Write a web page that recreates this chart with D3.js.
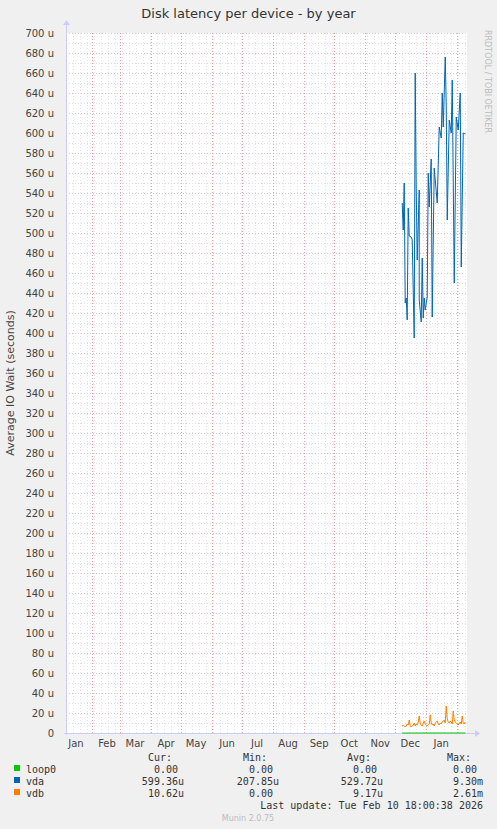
<!DOCTYPE html>
<html><head><meta charset="utf-8">
<script src="https://cdn.jsdelivr.net/npm/d3@7"></script>
<style>body{margin:0;background:#f0f0f0}</style>
</head><body>
<script>
const yTicks = d3.range(0, 701, 20);
const months = ["Jan","Feb","Mar","Apr","May","Jun","Jul","Aug","Sep","Oct","Nov","Dec","Jan"];
// x pixel offsets converted to days after 2025-12-01
const vdaDays = [7,8,9,10,11,12,13,14,16,17,19,20,21,22,24,24,26,27,28,29,30,32,33,34,36,37,39,42,44,46,47,48,50,51,52,54,56,57,59,61,63,65,66,68,70];
const vdaVals = [530,503,550,430,435,413,525,497,496,493,395,660,546,473,543,433,411,475,415,435,423,436,560,526,574,416,565,530,606,595,640,606,676,627,513,613,600,653,450,616,603,640,466,600,599];
const vdbDays = d3.range(7, 71);
const vdbVals = [7,8,7,6,7,9,8,13,7,6,7,8,10,7,9,8,11,17,9,8,7,10,12,9,8,7,8,9,18,10,8,9,7,10,11,12,9,8,10,9,11,12,13,10,27,14,11,10,12,11,9,22,13,11,10,9,8,10,11,9,17,10,9,11];
const loop0Days = [7, 70];
const loop0Vals = [0, 0];
const legend = [
  {name:"loop0", color:"#00cc00", cur:"0.00", min:"0.00", avg:"0.00", max:"0.00"},
  {name:"vda", color:"#0066b3", cur:"599.36u", min:"207.85u", avg:"529.72u", max:"9.30m"},
  {name:"vdb", color:"#ff8000", cur:"10.62u", min:"0.00", avg:"9.17u", max:"2.61m"}
];

const W = 497, H = 829, L = 66, R = 467, T = 33, B = 733;
const svg = d3.select("body").append("svg").attr("width", W).attr("height", H)
  .style("font-family", "DejaVu Sans").style("font-size", "10px");
svg.append("rect").attr("width", W).attr("height", H).attr("fill", "#f0f0f0");

const t0 = new Date(2025, 0, 6), t1 = new Date(2026, 1, 10, 18);
const x = d3.scaleTime().domain([t0, t1]).range([L, R]);
const y = d3.scaleLinear().domain([0, 700]).range([B, T]);
const dayDate = d => new Date(2025, 11, 1 + d);

svg.append("rect").attr("x", L).attr("y", T).attr("width", R - L).attr("height", B - T).attr("fill", "#fff");

// grids
svg.append("g").selectAll("line").data(d3.range(0, 701, 10)).join("line")
  .attr("x1", L).attr("x2", R).attr("y1", d => y(d) + .5).attr("y2", d => y(d) + .5)
  .attr("stroke", d => d % 20 ? "#dddddd" : "#d8c8c8").attr("stroke-dasharray", "1,2");
const mStarts = d3.timeMonth.range(d3.timeMonth.ceil(t0), t1);
const weeks = d3.timeMonday.range(t0, t1);
svg.append("g").selectAll("line").data(weeks).join("line")
  .attr("x1", d => Math.round(x(d)) + .5).attr("x2", d => Math.round(x(d)) + .5).attr("y1", T).attr("y2", B)
  .attr("stroke", "#e4e4e4").attr("stroke-dasharray", "1,2");
svg.append("g").selectAll("line").data([t0, ...mStarts]).join("line")
  .attr("x1", d => Math.round(x(d)) + .5).attr("x2", d => Math.round(x(d)) + .5).attr("y1", T).attr("y2", B)
  .attr("stroke", "#e8a0a0").attr("stroke-dasharray", "1,2");

// axes lines
svg.append("line").attr("x1", L - 2).attr("x2", R + 8).attr("y1", B + .5).attr("y2", B + .5).attr("stroke", "#ccccff");
svg.append("path").attr("d", `M${R+8},${B-3}L${R+13},${B+.5}L${R+8},${B+4}Z`).attr("fill", "#ccccff");
svg.append("line").attr("x1", L + .5).attr("x2", L + .5).attr("y1", B + 2).attr("y2", T - 8).attr("stroke", "#ccccff");
svg.append("path").attr("d", `M${L-3},${T-8}L${L+.5},${T-13}L${L+4},${T-8}Z`).attr("fill", "#ccccff");

svg.append("g").selectAll("text").data(yTicks).join("text")
  .attr("x", L - 12).attr("y", d => y(d) + 4).attr("text-anchor", "end").attr("fill", "#444")
  .text(d => d ? d + " u" : "0");
const mids = [t0, ...mStarts].map((d, i) => i === 0 ? new Date(2025, 0, 16) : d3.timeDay.offset(d, 15));
svg.append("g").selectAll("text").data(months).join("text")
  .attr("x", (d, i) => x(mids[i])).attr("y", B + 14).attr("text-anchor", "middle").attr("fill", "#444")
  .text(d => d);

// series
const line = d3.line().x(d => x(dayDate(d[0]))).y(d => y(d[1]));
const draw = (days, vals, c) => svg.append("path").datum(days.map((d, i) => [d, vals[i]]))
  .attr("d", line).attr("fill", "none").attr("stroke", c).attr("stroke-width", 1);
draw(loop0Days, loop0Vals, "#00cc00");
draw(vdaDays, vdaVals, "#0066b3");
draw(vdbDays, vdbVals, "#ff8000");

// texts
svg.append("text").attr("x", W / 2).attr("y", 18).attr("text-anchor", "middle")
  .style("font-size", "13px").attr("fill", "#333").text("Disk latency per device - by year");
svg.append("text").attr("transform", `translate(14,${(T + B) / 2}) rotate(-90)`).attr("text-anchor", "middle")
  .style("font-size", "11px").attr("fill", "#444").text("Average IO Wait (seconds)");
svg.append("text").attr("transform", `translate(485,30) rotate(90)`).attr("text-anchor", "start")
  .style("font-size", "8px").attr("fill", "#bbb").text("RRDTOOL / TOBI OETIKER");

const mono = svg.append("g").style("font-family", "DejaVu Sans Mono").style("font-size", "10px").attr("fill", "#333");
const cols = [{k:"cur", x:184, h:"Cur:"}, {k:"min", x:279, h:"Min:"}, {k:"avg", x:383, h:"Avg:"}, {k:"max", x:483, h:"Max:"}];
cols.forEach(c => mono.append("text").attr("x", c.x - 12).attr("y", 761).attr("text-anchor", "end").text(c.h));
legend.forEach((s, i) => {
  const yy = 773 + i * 12;
  mono.append("rect").attr("x", 14).attr("y", yy - 8).attr("width", 6).attr("height", 6).attr("fill", s.color);
  mono.append("text").attr("x", 26).attr("y", yy).text(s.name);
  cols.forEach(c => mono.append("text").attr("x", c.x - (s[c.k].endsWith("u") || s[c.k].endsWith("m") ? 0 : 6)).attr("y", yy)
    .attr("text-anchor", "end").text(s[c.k]));
});
mono.append("text").attr("x", 483).attr("y", 809).attr("text-anchor", "end").text("Last update: Tue Feb 10 18:00:38 2026");
svg.append("text").attr("x", 248).attr("y", 821).attr("text-anchor", "middle").style("font-size", "8px")
  .attr("fill", "#bbb").text("Munin 2.0.75");
</script>
</body></html>
